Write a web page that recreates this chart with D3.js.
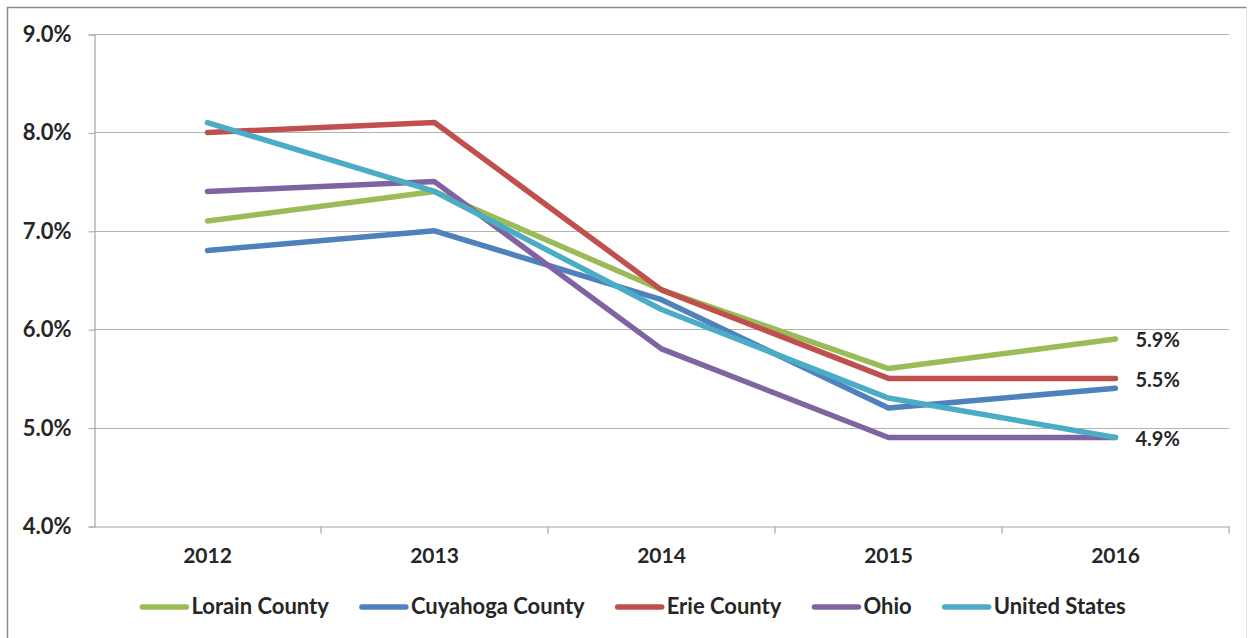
<!DOCTYPE html>
<html>
<head>
<meta charset="utf-8">
<script src="https://cdn.jsdelivr.net/npm/d3@7/dist/d3.min.js"></script>
<style>
  html, body { margin: 0; padding: 0; background: #fff; }
  svg { display: block; }
  text { font-family: Lato, "Open Sans", sans-serif; font-weight: 700; fill: #262626; }
</style>
</head>
<body>
<svg id="chart" width="1250" height="638"></svg>
<script>
// ---- data ----
const years = ["2012", "2013", "2014", "2015", "2016"];
const seriesNames = ["Lorain County", "Cuyahoga County", "Erie County", "Ohio", "United States"];
const lorain   = [7.1, 7.4, 6.4, 5.6, 5.9];
const cuyahoga = [6.8, 7.0, 6.3, 5.2, 5.4];
const erie     = [8.0, 8.1, 6.4, 5.5, 5.5];
const ohio     = [7.4, 7.5, 5.8, 4.9, 4.9];
const usa      = [8.1, 7.4, 6.2, 5.3, 4.9];
const yTicks = [4, 5, 6, 7, 8, 9];
const endLabels = [{series: "Lorain County", text: "5.9%"}, {series: "Erie County", text: "5.5%"}, {series: "United States", text: "4.9%"}];

const colors = {
  "Lorain County": "#9BBB59",
  "Cuyahoga County": "#4F81BD",
  "Erie County": "#C0504D",
  "Ohio": "#8064A2",
  "United States": "#4BACC6"
};
const seriesValues = [lorain, cuyahoga, erie, ohio, usa];
const series = seriesNames.map((name, i) => ({name, values: seriesValues[i]}));

// ---- layout ----
const svg = d3.select("#chart");
const pLeft = 94, pRight = 1229, pTop = 34, pBottom = 526;

// outer frame
svg.append("path").attr("d", "M7.5,660 V7.5 H1246.5")
  .attr("fill", "none").attr("stroke", "#8a8a8a").attr("stroke-width", 1.5);
svg.append("line").attr("x1", 1246.5).attr("x2", 1246.5).attr("y1", 7.5).attr("y2", 660)
  .attr("stroke", "#e2e2e2").attr("stroke-width", 1);

const x = d3.scaleBand().domain(years).range([pLeft, pRight]).paddingInner(0).paddingOuter(0);
const y = d3.scaleLinear().domain([4, 9]).range([pBottom, pTop]);
const xc = d => x(d) + x.bandwidth() / 2;

// gridlines
svg.append("g").selectAll("line").data(yTicks.filter(t => t > 4)).join("line")
  .attr("x1", pLeft).attr("x2", pRight)
  .attr("y1", d => Math.round(y(d)) + 0.5).attr("y2", d => Math.round(y(d)) + 0.5)
  .attr("stroke", "#b3b3b3").attr("stroke-width", 1.2);

// y axis
const yAxis = d3.axisLeft(y).tickValues(yTicks).tickSize(6).tickPadding(17)
  .tickFormat(d => d3.format(".1f")(d) + "%");
const gy = svg.append("g").attr("transform", `translate(${pLeft + 0.5},0.5)`).call(yAxis);
gy.select(".domain").attr("stroke", "#a6a6a6").attr("stroke-width", 1.2);
gy.selectAll(".tick line").attr("stroke", "#a6a6a6");
gy.selectAll(".tick text").attr("font-size", 22).attr("fill", "#262626")
  .style("font-family", "Lato, sans-serif").style("font-weight", 700);

// x axis
const xAxis = d3.axisBottom(x).tickSize(0).tickPadding(22);
const gx = svg.append("g").attr("transform", `translate(0,${pBottom + 0.5})`).call(xAxis);
gx.select(".domain").attr("stroke", "#a6a6a6").attr("stroke-width", 1.2);
gx.selectAll(".tick text").attr("font-size", 21).attr("fill", "#262626")
  .style("font-family", "Lato, sans-serif").style("font-weight", 700);
// band boundary ticks
gx.append("g").selectAll("line").data(years.slice(1).concat(["__end"])).join("line")
  .attr("x1", d => d === "__end" ? pRight : x(d)).attr("x2", d => d === "__end" ? pRight : x(d))
  .attr("y1", 0).attr("y2", 7).attr("stroke", "#a6a6a6").attr("stroke-width", 1.2);

// lines
const line = d3.line().x((d, i) => xc(years[i])).y(d => y(d));
svg.append("g").selectAll("path").data(series).join("path")
  .attr("d", d => line(d.values))
  .attr("fill", "none")
  .attr("stroke", d => colors[d.name])
  .attr("stroke-width", 5.5)
  .attr("stroke-linejoin", "round")
  .attr("stroke-linecap", "round");

// end labels
const last = years[years.length - 1];
svg.append("g").selectAll("text").data(endLabels).join("text")
  .attr("x", xc(last) + 20)
  .attr("y", d => y(series.find(s => s.name === d.series).values[years.length - 1]) + 3)
  .attr("dominant-baseline", "middle")
  .attr("font-size", 20)
  .text(d => d.text);

// legend
const legend = svg.append("g");
const items = legend.selectAll("g").data(series).join("g");
items.append("line").attr("x1", 0).attr("x2", 44).attr("y1", 0).attr("y2", 0)
  .attr("stroke", d => colors[d.name]).attr("stroke-width", 5.5).attr("stroke-linecap", "round");
items.append("text").attr("x", 49).attr("y", 1).attr("dominant-baseline", "middle")
  .attr("font-size", 22).text(d => d.name);
let cursor = 0;
items.each(function(d) {
  const w = 49 + this.querySelector("text").getComputedTextLength();
  d3.select(this).attr("transform", `translate(${cursor},0)`);
  cursor += w + 33;
});
const total = cursor - 33;
legend.attr("transform", `translate(${634 - total / 2},607)`);
</script>
</body>
</html>
